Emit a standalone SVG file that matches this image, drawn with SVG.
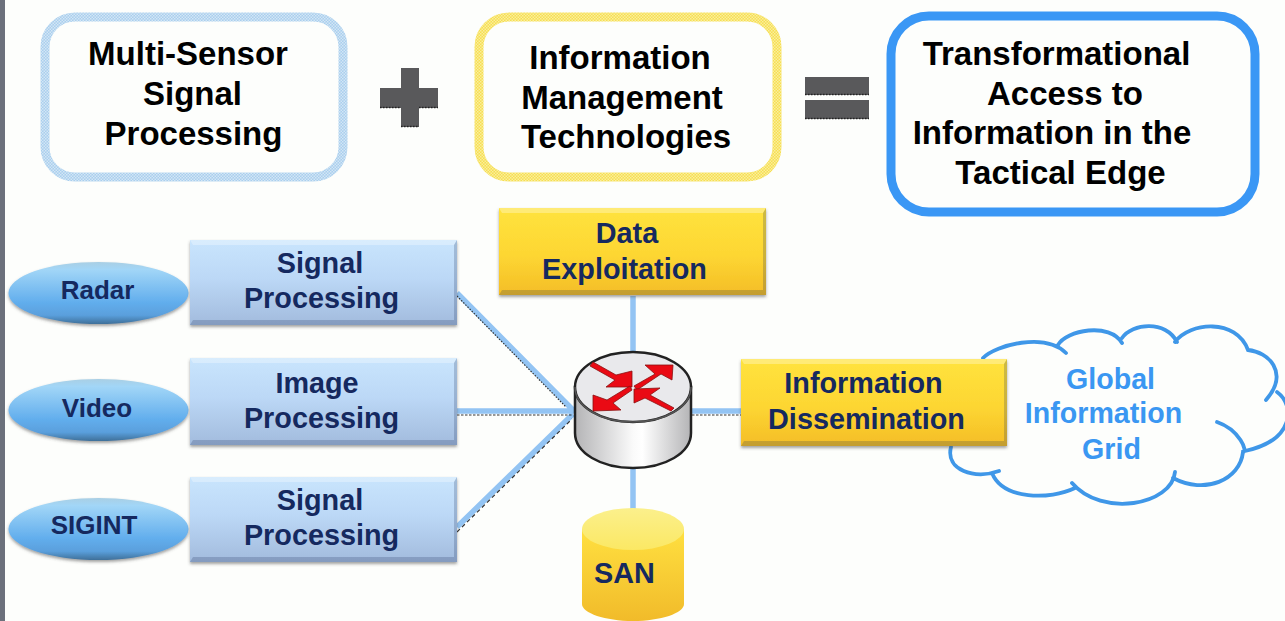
<svg xmlns="http://www.w3.org/2000/svg" width="1285" height="621" viewBox="0 0 1285 621">
<style>
text{font-family:"Liberation Sans",Arial,sans-serif;font-weight:700;text-anchor:middle}
.k{font-size:33px;fill:#000}
.n{font-size:28.8px;fill:#15295f}
.e{font-size:26px;fill:#15295f}
.g{font-size:28.6px;fill:#3a97f2}
.frame{fill:#fdfefc;stroke-width:9}
.op{fill:#59595b}
.dots{fill:none;stroke:#222;stroke-width:1.5;stroke-dasharray:1.5 1.5}
.link{stroke:#93c4f3;stroke-width:5.500;fill:none}
.fine{stroke:#333;stroke-width:1.2;fill:none}
.arrow{fill:#ea0a14;stroke:#8a1010;stroke-width:.8;stroke-linejoin:round}
.blue{fill:url(#blueG);filter:url(#sh)}
.gold{fill:url(#goldG);filter:url(#sh)}
.hi{fill:#fff;opacity:.3}
.lo{fill:#1c2f55;opacity:.22}
.ell{fill:url(#ellG);filter:url(#sh)}
</style>
<defs>
<linearGradient id="blueG" x1="0" y1="0" x2="0" y2="1"><stop offset="0" stop-color="#c9e5fd"/><stop offset=".45" stop-color="#bcd8f6"/><stop offset="1" stop-color="#a2bbdd"/></linearGradient>
<linearGradient id="goldG" x1="0" y1="0" x2="0" y2="1"><stop offset="0" stop-color="#ffe33e"/><stop offset=".55" stop-color="#fdd632"/><stop offset="1" stop-color="#f4bd27"/></linearGradient>
<linearGradient id="ellG" x1="0" y1="0" x2="0" y2="1"><stop offset="0" stop-color="#a9cfe4"/><stop offset=".12" stop-color="#a2d6f7"/><stop offset=".65" stop-color="#62aeed"/><stop offset=".86" stop-color="#5a9fdc"/><stop offset="1" stop-color="#3f7099"/></linearGradient>
<linearGradient id="bodyG" x1="0" y1="0" x2="1" y2="0"><stop offset="0" stop-color="#b4b4b6"/><stop offset=".5" stop-color="#fafafa"/><stop offset=".58" stop-color="#ffffff"/><stop offset="1" stop-color="#b4b4b6"/></linearGradient>
<linearGradient id="sanG" x1="0" y1="0" x2="0" y2="1"><stop offset="0" stop-color="#ffe040"/><stop offset="1" stop-color="#f1bb2a"/></linearGradient>
<linearGradient id="sanTop" x1="0" y1="0" x2="0" y2="1"><stop offset="0" stop-color="#fbf08c"/><stop offset="1" stop-color="#fbe864"/></linearGradient>
<pattern id="blueDots" width="3" height="3" patternUnits="userSpaceOnUse"><rect width="3" height="3" fill="#a9cfee"/><rect x="0" y="0" width="1.500" height="1.500" fill="#d3e6f5"/><rect x="1.500" y="1.500" width="1.500" height="1.500" fill="#d3e6f5"/></pattern>
<pattern id="yellowDots" width="3" height="3" patternUnits="userSpaceOnUse"><rect width="3" height="3" fill="#f6df52"/><rect x="0" y="0" width="1.500" height="1.500" fill="#fbee9c"/><rect x="1.500" y="1.500" width="1.500" height="1.500" fill="#fbee9c"/></pattern>
<filter id="sh" x="-5%" y="-5%" width="110%" height="115%"><feDropShadow dx="0" dy="2" stdDeviation="1.500" flood-color="#444" flood-opacity=".5"/></filter>
</defs>
<rect width="1285" height="621" fill="#fdfefc"/>
<rect id="edge" x="0" y="0" width="5" height="621" fill="#6c717c"/>

<g id="multi-sensor">
<rect class="frame" x="45" y="17" width="298" height="160" rx="30" stroke="url(#blueDots)"/>
<text class="k" x="188" y="65">Multi-Sensor</text><text class="k" x="192.500" y="105">Signal</text><text class="k" x="193.500" y="145">Processing</text>
</g>
<g id="plus">
<path class="op" d="M401 68h18v20h19v20h-19v19h-18v-19h-21v-20h21z"/>
<path class="dots" d="M380 107.500h21M419 107.500h19M401 126.500h18"/>
</g>
<g id="info-mgmt">
<rect class="frame" x="479" y="17" width="298" height="160" rx="30" stroke="url(#yellowDots)"/>
<text class="k" x="620" y="69">Information</text><text class="k" x="622" y="109">Management</text><text class="k" x="626" y="148">Technologies</text>
</g>
<g id="equals">
<rect class="op" x="805" y="77" width="64" height="18"/><rect class="op" x="805" y="100" width="64" height="19"/>
<path class="dots" d="M805 94.500h64M805 118.500h64"/>
</g>
<g id="transformational">
<rect class="frame" x="891" y="16" width="364" height="196" rx="38" stroke="#3a97f5"/>
<text class="k" x="1056.500" y="65">Transformational</text><text class="k" x="1065" y="105">Access to</text><text class="k" x="1052" y="144">Information in the</text><text class="k" x="1060.500" y="184">Tactical Edge</text>
</g>

<g id="connectors">
<path class="link" d="M457 293L573 410M457 411H575M457 527L573 414M691 411H741M633 296V352M633 468V510"/>
<path class="fine" stroke-dasharray="1.500 1.500" d="M457 296L566 407"/>
<path class="fine" stroke-dasharray="2.500 1.500" d="M457 415H573M692 415H741"/>
<path class="fine" stroke-dasharray="4 3" d="M457 532L572 419"/>
</g>

<g id="cloud">
<path d="M983 358C996 345 1045 332 1066 353L1058 345C1066 330 1110 322 1122 343L1122 338C1132 323 1166 320 1177 342L1175 342C1190 322 1236 318 1248 350C1268 352 1290 372 1266 400L1277 392C1295 405 1295 440 1245 451L1243 450C1243 470 1215 492 1173 478C1172 505 1102 518 1072 483L1075 488C1050 500 1003 500 992 473L999 471C975 480 945 470 951 447L1000 380z" fill="#fdfefc" stroke="none"/>
<path d="M983 358C996 345 1045 332 1066 353M1058 345C1066 330 1110 322 1122 343M1122 338C1132 323 1166 320 1177 342M1175 342C1190 322 1236 318 1248 350C1268 352 1290 372 1266 400M1277 392C1295 405 1295 440 1245 451M1217 422C1240 430 1248 452 1243 452C1240 480 1205 495 1173 478M1175 472C1172 505 1102 518 1072 483M1075 488C1050 500 1003 500 992 473M999 471C975 480 945 470 951 447" fill="none" stroke="#3f97e8" stroke-width="3.800" stroke-linecap="round"/>
<text class="g" x="1110.500" y="389">Global</text><text class="g" x="1103.500" y="423">Information</text><text class="g" x="1111.500" y="459">Grid</text>
</g>

<g id="radar"><ellipse class="ell" cx="98.500" cy="293" rx="90" ry="31"/><text class="e" x="97.500" y="299">Radar</text></g>
<g id="video"><ellipse class="ell" cx="98.500" cy="410" rx="90" ry="31"/><text class="e" x="97" y="417">Video</text></g>
<g id="sigint"><ellipse class="ell" cx="98.500" cy="529" rx="90" ry="31"/><text class="e" x="94" y="534">SIGINT</text></g>

<g id="signal-1"><rect class="blue" x="190" y="240" width="267" height="85"/><path class="hi" d="M190 240h267l-3 5H193z"/><path class="lo" d="M190 325h267l-3-5H193zM454 245l3-5v85l-3-5z"/>
<text class="n" x="320" y="273">Signal</text><text class="n" x="321.500" y="308">Processing</text></g>
<g id="image"><rect class="blue" x="190" y="358" width="267" height="87"/><path class="hi" d="M190 358h267l-3 5H193z"/><path class="lo" d="M190 445h267l-3-5H193zM454 363l3-5v87l-3-5z"/>
<text class="n" x="317" y="393">Image</text><text class="n" x="321.500" y="428">Processing</text></g>
<g id="signal-2"><rect class="blue" x="190" y="477" width="267" height="85"/><path class="hi" d="M190 477h267l-3 5H193z"/><path class="lo" d="M190 562h267l-3-5H193zM454 482l3-5v85l-3-5z"/>
<text class="n" x="320" y="510">Signal</text><text class="n" x="321.500" y="545">Processing</text></g>

<g id="data-exploitation"><rect class="gold" x="499" y="208" width="267" height="87"/><path class="hi" d="M499 208h267l-3 5H502z"/><path class="lo" d="M499 295h267l-3-5H502zM763 213l3-5v87l-3-5z"/>
<text class="n" x="627" y="243">Data</text><text class="n" x="624.500" y="279">Exploitation</text></g>
<g id="information-dissemination"><rect class="gold" x="741" y="359" width="266" height="87"/><path class="hi" d="M741 359h266l-3 5H744z"/><path class="lo" d="M741 446h266l-3-5H744zM1004 364l3-5v87l-3-5z"/>
<text class="n" x="863.500" y="393">Information</text><text class="n" x="866.500" y="429">Dissemination</text></g>

<g id="router">
<path d="M575 387V433C575 453 601 468 633 468S691 453 691 433V387z" fill="url(#bodyG)" stroke="#222" stroke-width="2.500"/>
<ellipse cx="633" cy="387" rx="58" ry="35" fill="#e9e9ec" stroke="#222" stroke-width="2.500"/>
<path d="M575 387C575 407 601 422 633 422S691 407 691 387" fill="none" stroke="#555" stroke-width="1.500"/>
<path class="arrow" d="M593 362L616 375L632 371L632 387L606 387L615 380L590 366z"/>
<path class="arrow" d="M634 386L655 374L645 365L673 365L672 380L661 374L637 390z"/>
<path class="arrow" d="M632 390L613 403L621 410L593 411L593 395L607 400L630 386z"/>
<path class="arrow" d="M674 408L650 395L660 388L634 389L634 403L645 398L671 411z"/>
</g>

<g id="san">
<path d="M582 529V604C582 613 605 621 633 621S684 613 684 604V529z" fill="url(#sanG)"/>
<ellipse cx="633" cy="529" rx="51" ry="21" fill="url(#sanTop)"/>
<text class="n" x="624.500" y="583">SAN</text>
</g>
</svg>
